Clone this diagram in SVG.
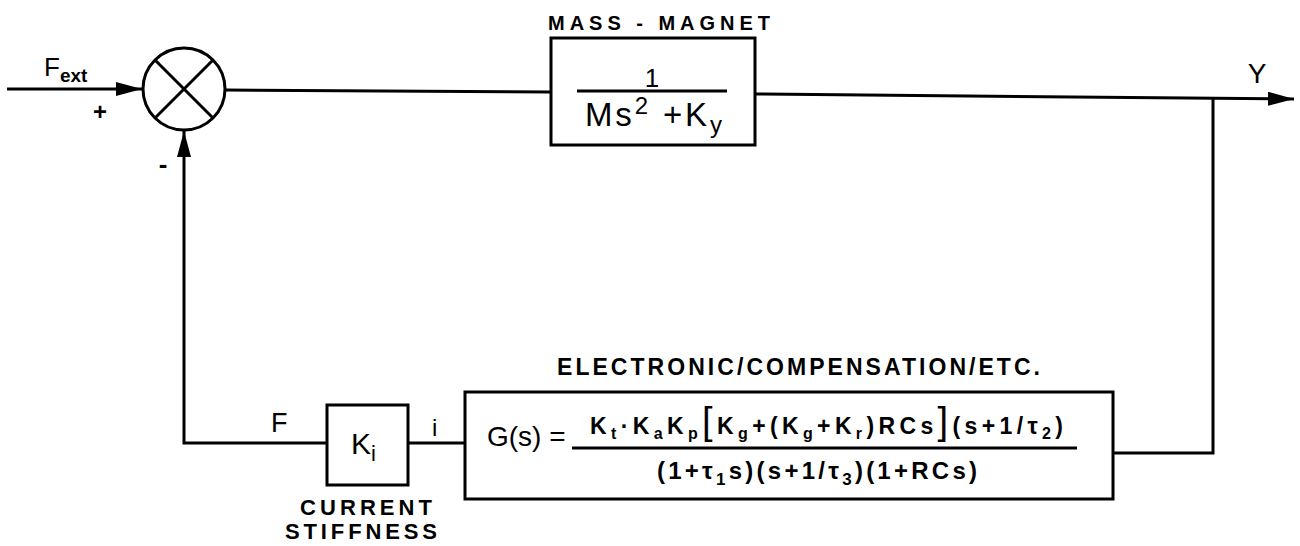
<svg xmlns="http://www.w3.org/2000/svg" width="1300" height="546" viewBox="0 0 1300 546">
<style>
.ln{fill:none;stroke:#000;stroke-width:3}
.bx{fill:#fff;stroke:#000;stroke-width:3}
.t{font-family:"Liberation Sans",Arial,sans-serif;fill:#000}
.lab{font-family:"Liberation Sans",Arial,sans-serif;font-weight:bold;fill:#000}
</style>
<defs>
<marker id="ah" markerWidth="26" markerHeight="14" refX="26" refY="7" orient="auto" markerUnits="userSpaceOnUse">
<path d="M0,0 L26,7 L0,14 Z" fill="#000"/>
</marker>
</defs>
<rect width="1300" height="546" fill="#fff"/>
<g id="connectors">
<line class="ln" x1="7" y1="89" x2="142" y2="89" marker-end="url(#ah)"/>
<line class="ln" x1="226" y1="90" x2="551" y2="92"/>
<line class="ln" x1="755" y1="94" x2="1294" y2="99" marker-end="url(#ah)"/>
<polyline class="ln" points="1213,99 1213,453 1112,453"/>
<line class="ln" x1="465" y1="443" x2="408" y2="443"/>
<polyline class="ln" points="327,443 184,443 184,131" marker-end="url(#ah)"/>
</g>
<g id="sum">
<circle class="bx" cx="184" cy="89" r="41"/>
<line class="ln" x1="155" y1="60" x2="213" y2="118"/>
<line class="ln" x1="213" y1="60" x2="155" y2="118"/>
<text class="t" x="44" y="76" font-size="26">F<tspan font-size="19" font-weight="bold" dy="6">ext</tspan></text>
<text class="lab" x="100" y="120" font-size="24" text-anchor="middle">+</text>
<text class="lab" x="163" y="173" font-size="26" text-anchor="middle">-</text>
</g>
<g id="mass">
<rect class="bx" x="551" y="38" width="204" height="107"/>
<text class="lab" x="548" y="30" font-size="20" textLength="222" lengthAdjust="spacing">MASS - MAGNET</text>
<text class="t" x="652" y="87" font-size="26" text-anchor="middle">1</text>
<line class="ln" x1="577" y1="91" x2="727" y2="91"/>
<text class="t" x="585" y="126" font-size="33" textLength="137" lengthAdjust="spacing">Ms<tspan font-size="24" dy="-12">2</tspan><tspan dy="12"> +K</tspan><tspan font-size="24" dy="7">y</tspan></text>
</g>
<g id="ki">
<rect class="bx" x="327" y="405" width="81" height="80"/>
<text class="t" x="351" y="454" font-size="30">K<tspan font-size="22" dy="7">i</tspan></text>
<text class="t" x="271" y="432" font-size="27">F</text>
<text class="t" x="432" y="436" font-size="24">i</text>
<text class="lab" x="300" y="515" font-size="22" textLength="132" lengthAdjust="spacing">CURRENT</text>
<text class="lab" x="285" y="539" font-size="22" textLength="152" lengthAdjust="spacing">STIFFNESS</text>
</g>
<g id="gs">
<rect class="bx" x="465" y="392" width="648" height="107"/>
<text class="lab" x="557" y="375" font-size="23" textLength="483" lengthAdjust="spacing">ELECTRONIC/COMPENSATION/ETC.</text>
<text class="t" x="487" y="446" font-size="28">G(s) =</text>
<line class="ln" x1="572" y1="448" x2="1077" y2="448"/>
<text class="lab" x="590" y="434" font-size="23" textLength="473" lengthAdjust="spacing">K<tspan font-size="16" dy="5">t</tspan><tspan dy="-5">·K</tspan><tspan font-size="16" dy="5">a</tspan><tspan dy="-5">K</tspan><tspan font-size="16" dy="5">p</tspan><tspan dy="-5" font-size="38" font-weight="normal">[</tspan>K<tspan font-size="16" dy="5">g</tspan><tspan dy="-5">+(K</tspan><tspan font-size="16" dy="5">g</tspan><tspan dy="-5">+K</tspan><tspan font-size="16" dy="5">r</tspan><tspan dy="-5">)RCs</tspan><tspan font-size="38" font-weight="normal">]</tspan>(s+1/τ<tspan font-size="16" dy="5">2</tspan><tspan dy="-5">)</tspan></text>
<text class="lab" x="657" y="479" font-size="24" textLength="320" lengthAdjust="spacing">(1+τ<tspan font-size="17" dy="6">1</tspan><tspan dy="-6">s)(s+1/τ</tspan><tspan font-size="17" dy="6">3</tspan><tspan dy="-6">)(1+RCs)</tspan></text>
</g>
<g id="out">
<text class="t" x="1257" y="83" font-size="28" text-anchor="middle">Y</text>
</g>
</svg>
